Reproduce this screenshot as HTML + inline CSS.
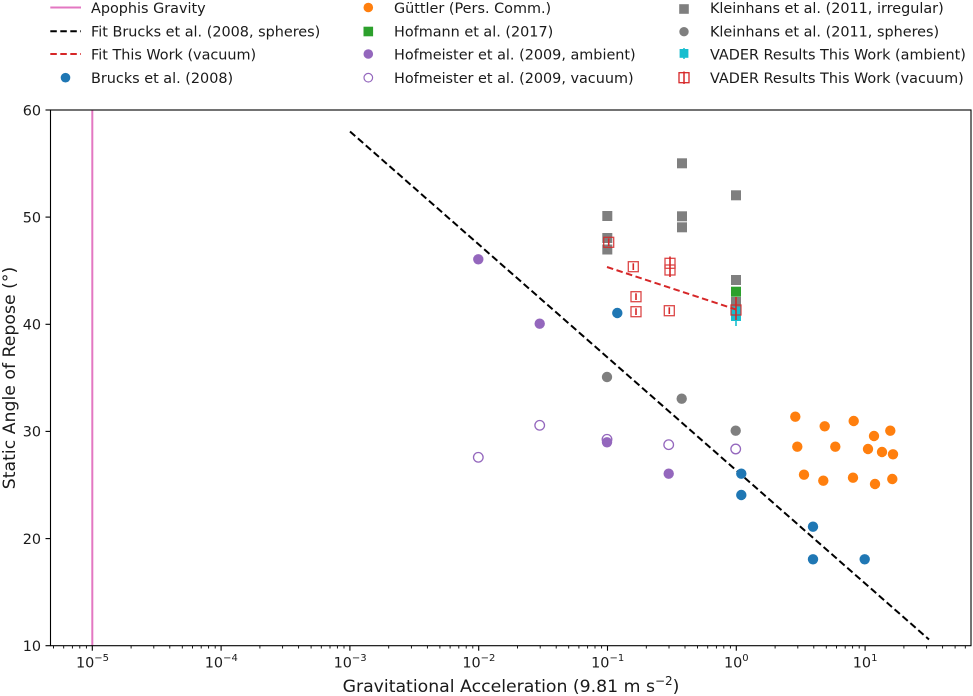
<!DOCTYPE html>
<html>
<head>
<meta charset="utf-8">
<style>
html,body{margin:0;padding:0;background:#fff;}
svg{display:block;font-family:"DejaVu Sans","Liberation Sans",sans-serif;}
</style>
</head>
<body>
<svg width="973" height="696" viewBox="0 0 973 696" xmlns="http://www.w3.org/2000/svg">
<rect width="973" height="696" fill="#fff"/>

<!-- Legend -->
<g font-size="14.4" fill="#1a1a1a">
  <line x1="50.3" y1="7.5" x2="81" y2="7.5" stroke="#e377c2" stroke-width="2"/>
  <line x1="50.3" y1="31.3" x2="81" y2="31.3" stroke="#000" stroke-width="2" stroke-dasharray="6.5,3.5"/>
  <line x1="50.3" y1="54" x2="81" y2="54" stroke="#d62728" stroke-width="2" stroke-dasharray="6.5,3.5"/>
  <circle cx="65.5" cy="77.7" r="4.8" fill="#1f77b4"/>
  <text x="91" y="13">Apophis Gravity</text>
  <text x="91" y="36.5">Fit Brucks et al. (2008, spheres)</text>
  <text x="91" y="59.5">Fit This Work (vacuum)</text>
  <text x="91" y="83">Brucks et al. (2008)</text>

  <circle cx="368.3" cy="7.5" r="4.8" fill="#ff7f0e"/>
  <rect x="363.5" y="26.7" width="9.6" height="9.6" fill="#2ca02c"/>
  <circle cx="368.3" cy="54" r="4.8" fill="#9467bd"/>
  <circle cx="368.3" cy="77.7" r="4.3" fill="none" stroke="#9467bd" stroke-width="1.2"/>
  <text x="394" y="13">Güttler (Pers. Comm.)</text>
  <text x="394" y="36.5">Hofmann et al. (2017)</text>
  <text x="394" y="59.5">Hofmeister et al. (2009, ambient)</text>
  <text x="394" y="83">Hofmeister et al. (2009, vacuum)</text>

  <rect x="679.2" y="4.2" width="9.6" height="9.6" fill="#7f7f7f"/>
  <circle cx="684" cy="31.7" r="4.7" fill="#7f7f7f"/>
  <line x1="684" y1="48" x2="684" y2="59" stroke="#17becf" stroke-width="1.5"/>
  <rect x="679.6" y="49" width="8.8" height="8.8" fill="#17becf"/>
  <rect x="679" y="72.7" width="10" height="10" fill="none" stroke="#d62728" stroke-width="1.3"/>
  <line x1="684" y1="71.5" x2="684" y2="84" stroke="#d62728" stroke-width="1.5"/>
  <text x="710" y="13">Kleinhans et al. (2011, irregular)</text>
  <text x="710" y="36.5">Kleinhans et al. (2011, spheres)</text>
  <text x="710" y="59.5">VADER Results This Work (ambient)</text>
  <text x="710" y="83">VADER Results This Work (vacuum)</text>
</g>

<!-- Apophis gravity line -->
<line x1="92.3" y1="110" x2="92.3" y2="645.7" stroke="#e377c2" stroke-width="2"/>

<!-- Fit Brucks -->
<line x1="350" y1="131.5" x2="929" y2="639.5" stroke="#000" stroke-width="2" stroke-dasharray="7,3.5"/>

<!-- Kleinhans irregular squares -->
<g fill="#7f7f7f">
  <rect x="602.3" y="211" width="10" height="10"/>
  <rect x="602.3" y="233" width="10" height="10"/>
  <rect x="602.3" y="244.5" width="10" height="10"/>
  <rect x="677" y="158.3" width="10" height="10"/>
  <rect x="677" y="211.3" width="10" height="10"/>
  <rect x="677" y="222.3" width="10" height="10"/>
  <rect x="731" y="190.3" width="10" height="10"/>
  <rect x="731" y="275" width="10" height="10"/>
  <rect x="731" y="297" width="10" height="10"/>
</g>
<!-- Kleinhans spheres -->
<g fill="#7f7f7f">
  <circle cx="607" cy="377" r="5.2"/>
  <circle cx="681.7" cy="398.7" r="5.2"/>
  <circle cx="735.7" cy="430.7" r="5.2"/>
</g>
<!-- Hofmann -->
<rect x="731" y="286.7" width="10" height="10" fill="#2ca02c"/>

<!-- VADER ambient -->
<line x1="736" y1="305" x2="736" y2="326" stroke="#17becf" stroke-width="1.6"/>
<rect x="731" y="312" width="10" height="9" fill="#17becf"/>
<rect x="731" y="306.7" width="10" height="9" fill="#17becf"/>

<!-- Fit This Work -->
<line x1="607" y1="267" x2="736" y2="309.5" stroke="#d62728" stroke-width="2" stroke-dasharray="6.5,3.5"/>

<!-- VADER vacuum -->
<g fill="none" stroke="#d62728" stroke-width="1.3" opacity="0.85">
  <rect x="603.7" y="237.3" width="10" height="10"/>
  <rect x="628.3" y="261.7" width="10" height="10"/>
  <rect x="665" y="258.3" width="10" height="10"/>
  <rect x="665" y="265" width="10" height="10"/>
  <rect x="631" y="291.7" width="10" height="10"/>
  <rect x="631" y="306.7" width="10" height="10"/>
  <rect x="664.3" y="305.7" width="10" height="10"/>
  <rect x="731" y="305" width="10" height="10"/>
</g>
<g stroke="#d62728" stroke-width="1.6">
  <line x1="608.7" y1="238.5" x2="608.7" y2="246"/>
  <line x1="633.3" y1="263.3" x2="633.3" y2="270"/>
  <line x1="670" y1="256.5" x2="670" y2="277"/>
  <line x1="636" y1="293.3" x2="636" y2="300"/>
  <line x1="636" y1="308.3" x2="636" y2="315"/>
  <line x1="669.3" y1="307.3" x2="669.3" y2="314"/>
  <line x1="736" y1="297" x2="736" y2="320"/>
</g>

<!-- Hofmeister ambient -->
<g fill="#9467bd">
  <circle cx="478.3" cy="259.3" r="5.2"/>
  <circle cx="539.7" cy="323.7" r="5.2"/>
  <circle cx="607" cy="442.3" r="5.2"/>
  <circle cx="668.7" cy="473.7" r="5.2"/>
</g>
<!-- Hofmeister vacuum -->
<g fill="none" stroke="#9467bd" stroke-width="1.3">
  <circle cx="478.3" cy="457.3" r="4.8"/>
  <circle cx="539.7" cy="425.3" r="4.8"/>
  <circle cx="607" cy="439.3" r="4.8"/>
  <circle cx="668.7" cy="444.7" r="4.8"/>
  <circle cx="735.7" cy="449" r="4.8"/>
</g>

<!-- Brucks -->
<g fill="#1f77b4">
  <circle cx="617.3" cy="313" r="5.2"/>
  <circle cx="741.3" cy="473.7" r="5.2"/>
  <circle cx="741.3" cy="495" r="5.2"/>
  <circle cx="813" cy="526.7" r="5.2"/>
  <circle cx="813" cy="559.3" r="5.2"/>
  <circle cx="864.7" cy="559.3" r="5.2"/>
</g>

<!-- Güttler -->
<g fill="#ff7f0e">
  <circle cx="795.3" cy="416.7" r="5.2"/>
  <circle cx="824.7" cy="426.3" r="5.2"/>
  <circle cx="853.7" cy="421" r="5.2"/>
  <circle cx="874" cy="436" r="5.2"/>
  <circle cx="890.3" cy="430.7" r="5.2"/>
  <circle cx="797.3" cy="446.7" r="5.2"/>
  <circle cx="835.3" cy="446.7" r="5.2"/>
  <circle cx="868" cy="449" r="5.2"/>
  <circle cx="882" cy="452" r="5.2"/>
  <circle cx="893" cy="454.3" r="5.2"/>
  <circle cx="804" cy="474.7" r="5.2"/>
  <circle cx="823.3" cy="480.7" r="5.2"/>
  <circle cx="853" cy="477.7" r="5.2"/>
  <circle cx="875" cy="484" r="5.2"/>
  <circle cx="892.3" cy="479" r="5.2"/>
</g>

<!-- Axes frame -->
<rect x="50.5" y="110" width="920.5" height="535.7" fill="none" stroke="#000" stroke-width="1.1"/>

<!-- Y ticks -->
<g stroke="#000" stroke-width="1.1">
  <line x1="45.5" y1="645.7" x2="50.5" y2="645.7"/>
  <line x1="45.5" y1="538.6" x2="50.5" y2="538.6"/>
  <line x1="45.5" y1="431.4" x2="50.5" y2="431.4"/>
  <line x1="45.5" y1="324.3" x2="50.5" y2="324.3"/>
  <line x1="45.5" y1="217.1" x2="50.5" y2="217.1"/>
  <line x1="45.5" y1="110" x2="50.5" y2="110"/>
</g>
<g font-size="14.4" fill="#1a1a1a" text-anchor="end">
  <text x="41" y="651">10</text>
  <text x="41" y="543.9">20</text>
  <text x="41" y="436.7">30</text>
  <text x="41" y="329.6">40</text>
  <text x="41" y="222.4">50</text>
  <text x="41" y="115.3">60</text>
</g>

<!-- X major ticks -->
<g stroke="#000" stroke-width="1.1">
  <line x1="92.3" y1="645.7" x2="92.3" y2="650.7"/>
  <line x1="221.1" y1="645.7" x2="221.1" y2="650.7"/>
  <line x1="349.9" y1="645.7" x2="349.9" y2="650.7"/>
  <line x1="478.7" y1="645.7" x2="478.7" y2="650.7"/>
  <line x1="607.5" y1="645.7" x2="607.5" y2="650.7"/>
  <line x1="736.3" y1="645.7" x2="736.3" y2="650.7"/>
  <line x1="865.1" y1="645.7" x2="865.1" y2="650.7"/>
</g>
<!-- X minor ticks -->
<g stroke="#000" stroke-width="0.9">
  <path d="M53.5 645.7v2.8M63.7 645.7v2.8M72.4 645.7v2.8M79.8 645.7v2.8M86.4 645.7v2.8
  M131.1 645.7v2.8M153.8 645.7v2.8M169.8 645.7v2.8M182.3 645.7v2.8M192.5 645.7v2.8M201.2 645.7v2.8M208.6 645.7v2.8M215.2 645.7v2.8
  M259.9 645.7v2.8M282.6 645.7v2.8M298.6 645.7v2.8M311.1 645.7v2.8M321.3 645.7v2.8M330.0 645.7v2.8M337.4 645.7v2.8M344.0 645.7v2.8
  M388.7 645.7v2.8M411.4 645.7v2.8M427.4 645.7v2.8M439.9 645.7v2.8M450.1 645.7v2.8M458.8 645.7v2.8M466.2 645.7v2.8M472.8 645.7v2.8
  M517.5 645.7v2.8M540.2 645.7v2.8M556.2 645.7v2.8M568.7 645.7v2.8M578.9 645.7v2.8M587.6 645.7v2.8M595.0 645.7v2.8M601.6 645.7v2.8
  M646.3 645.7v2.8M669.0 645.7v2.8M685.0 645.7v2.8M697.5 645.7v2.8M707.7 645.7v2.8M716.4 645.7v2.8M723.8 645.7v2.8M730.4 645.7v2.8
  M775.1 645.7v2.8M797.8 645.7v2.8M813.8 645.7v2.8M826.3 645.7v2.8M836.5 645.7v2.8M845.2 645.7v2.8M852.6 645.7v2.8M859.2 645.7v2.8
  M903.9 645.7v2.8M926.6 645.7v2.8M942.6 645.7v2.8M955.1 645.7v2.8M965.3 645.7v2.8"/>
</g>
<!-- X tick labels -->
<g font-size="14.4" fill="#1a1a1a" text-anchor="middle">
  <text x="92.5" y="667.5">10<tspan dy="-6.5" font-size="10">−5</tspan></text>
  <text x="221.3" y="667.5">10<tspan dy="-6.5" font-size="10">−4</tspan></text>
  <text x="350.1" y="667.5">10<tspan dy="-6.5" font-size="10">−3</tspan></text>
  <text x="478.9" y="667.5">10<tspan dy="-6.5" font-size="10">−2</tspan></text>
  <text x="607.7" y="667.5">10<tspan dy="-6.5" font-size="10">−1</tspan></text>
  <text x="736.3" y="667.5">10<tspan dy="-6.5" font-size="10">0</tspan></text>
  <text x="865.1" y="667.5">10<tspan dy="-6.5" font-size="10">1</tspan></text>
</g>

<!-- Axis labels -->
<text x="511" y="692" font-size="17.3" fill="#1a1a1a" text-anchor="middle">Gravitational Acceleration (9.81 m s<tspan dy="-7" font-size="12">−2</tspan><tspan dy="7">)</tspan></text>
<text transform="translate(15,378) rotate(-90)" x="0" y="0" font-size="17.3" fill="#1a1a1a" text-anchor="middle">Static Angle of Repose (°)</text>
</svg>
</body>
</html>
